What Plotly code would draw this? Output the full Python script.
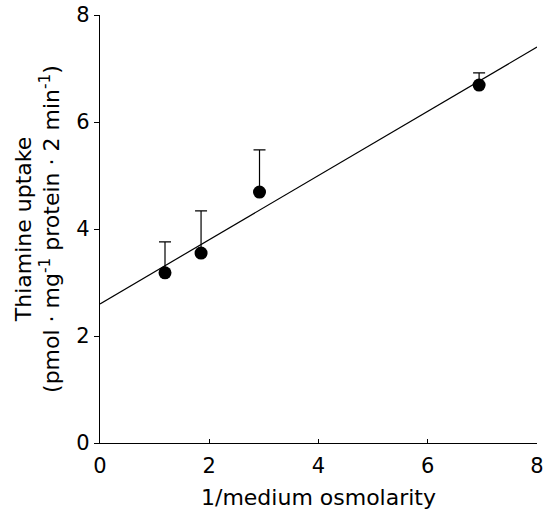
import plotly.graph_objects as go

x_vals = [1.19, 1.85, 2.92, 6.94]
y_vals = [3.18, 3.55, 4.69, 6.69]
err_up = [0.58, 0.79, 0.79, 0.23]
fit_x = [0, 8]
fit_y = [2.6, 7.4]
ticks = [0, 2, 4, 6, 8]

fig = go.Figure()
fig.add_trace(go.Scatter(x=fit_x, y=fit_y, mode="lines",
                         line=dict(color="black", width=1.2), showlegend=False))
fig.add_trace(go.Scatter(x=x_vals, y=y_vals, mode="markers",
                         marker=dict(color="black", size=13),
                         error_y=dict(type="data", array=err_up, arrayminus=[0]*4,
                                      symmetric=False, color="black", thickness=1.2, width=6),
                         showlegend=False))

font = "DejaVu Sans, Liberation Sans, Arial, sans-serif"
fig.update_layout(
    width=548, height=520,
    margin=dict(l=100, r=11, t=15, b=77, autoexpand=False),
    plot_bgcolor="white", paper_bgcolor="white",
    font=dict(family=font, color="black", size=21),
    xaxis=dict(range=[0, 8], tickvals=ticks, showgrid=False, zeroline=False,
               showline=True, linecolor="black", linewidth=1.2,
               ticks="inside", ticklen=4, tickcolor="black", automargin=False,
               tickfont=dict(family=font, size=21), ticklabelstandoff=4,
               title=dict(text="1/medium osmolarity", font=dict(family=font, size=22), standoff=12)),
    yaxis=dict(range=[0, 8], tickvals=ticks, showgrid=False, zeroline=False,
               showline=True, linecolor="black", linewidth=1.2,
               ticks="outside", ticklen=5, tickcolor="black", automargin=False,
               tickfont=dict(family=font, size=21),
               title=dict(text="Thiamine uptake<br>(pmol · mg<sup>-1</sup> protein · 2 min<sup>-1</sup>)",
                          font=dict(family=font, size=22), standoff=10)),
)
fig.write_html("out.html")
